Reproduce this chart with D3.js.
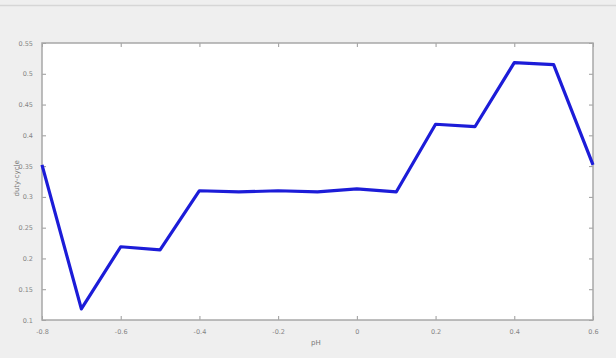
<!DOCTYPE html>
<html>
<head>
<meta charset="utf-8">
<script src="https://cdn.jsdelivr.net/npm/d3@7"></script>
<style>
  html, body { margin: 0; padding: 0; background: #efefef; }
  svg { display: block; }
  text { font-family: "DejaVu Sans", sans-serif; }
</style>
</head>
<body>
<svg id="chart" width="616" height="358"></svg>
<script>
// Duty cycle measured against pH offset
const phValues = [-0.8, -0.7, -0.6, -0.5, -0.4, -0.3, -0.2, -0.1, 0, 0.1, 0.2, 0.3, 0.4, 0.5, 0.6];
const dutyCycle = [0.352, 0.118, 0.219, 0.214, 0.310, 0.308, 0.310, 0.308, 0.313, 0.308, 0.418, 0.414, 0.518, 0.515, 0.352];
const xTicks = [-0.8, -0.6, -0.4, -0.2, 0, 0.2, 0.4, 0.6];
const yTicks = [0.1, 0.15, 0.2, 0.25, 0.3, 0.35, 0.4, 0.45, 0.5, 0.55];

const W = 616, H = 358;
const margin = { left: 42, right: 23, top: 43, bottom: 38 };
const svg = d3.select("#chart");

// window frame line across the top
svg.append("line").attr("x1", 0).attr("x2", W).attr("y1", 5.5).attr("y2", 5.5)
  .attr("stroke", "#d6d6d6").attr("stroke-width", 1.5);

const x = d3.scaleLinear().domain([-0.8, 0.6]).range([margin.left, W - margin.right]);
const y = d3.scaleLinear().domain([0.1, 0.55]).range([H - margin.bottom, margin.top]);

// plot area
svg.append("rect")
  .attr("x", x.range()[0]).attr("y", y.range()[1])
  .attr("width", x.range()[1] - x.range()[0])
  .attr("height", y.range()[0] - y.range()[1])
  .attr("fill", "#ffffff");

const tickColor = "#9a9a9a";
// plain hyphen-minus and shortest decimal form, as in a MATLAB figure
const fmtNum = d => String(+d.toFixed(2));
const fmtY = fmtNum;
const fmtX = fmtNum;

function styleAxis(g) {
  g.select(".domain").remove();
  g.selectAll("line").attr("stroke", tickColor).attr("stroke-width", 1);
  g.selectAll("text").attr("fill", "#858585").attr("font-size", 6.5);
}

// inward ticks on all four sides
svg.append("g").attr("transform", `translate(0,${y.range()[0]})`)
  .call(d3.axisBottom(x).tickValues(xTicks).tickSize(-4).tickPadding(9).tickFormat(fmtX))
  .call(styleAxis);
svg.append("g").attr("transform", `translate(0,${y.range()[1]})`)
  .call(d3.axisTop(x).tickValues(xTicks).tickSize(-4).tickFormat(""))
  .call(styleAxis);
svg.append("g").attr("transform", `translate(${x.range()[0]},0)`)
  .call(d3.axisLeft(y).tickValues(yTicks).tickSize(-4).tickPadding(9).tickFormat(fmtY))
  .call(styleAxis);
svg.append("g").attr("transform", `translate(${x.range()[1]},0)`)
  .call(d3.axisRight(y).tickValues(yTicks).tickSize(-4).tickFormat(""))
  .call(styleAxis);

// plot box
svg.append("rect")
  .attr("x", x.range()[0]).attr("y", y.range()[1])
  .attr("width", x.range()[1] - x.range()[0])
  .attr("height", y.range()[0] - y.range()[1])
  .attr("fill", "none").attr("stroke", "#a8a8a8").attr("stroke-width", 1.5);

// data line
const line = d3.line().x((d, i) => x(phValues[i])).y(d => y(d));
svg.append("path").datum(dutyCycle)
  .attr("d", line)
  .attr("fill", "none")
  .attr("stroke", "#1c1cd8")
  .attr("stroke-width", 3.2)
  .attr("stroke-linejoin", "round");

// axis titles
svg.append("text").attr("x", x(0) - 41).attr("y", 345)
  .attr("text-anchor", "middle").attr("font-size", 7).attr("fill", "#777")
  .text("pH");
svg.append("text")
  .attr("transform", `translate(19,${y(0.33)}) rotate(-90)`)
  .attr("text-anchor", "middle").attr("font-size", 7).attr("fill", "#777")
  .text("duty-cycle");
</script>
</body>
</html>
